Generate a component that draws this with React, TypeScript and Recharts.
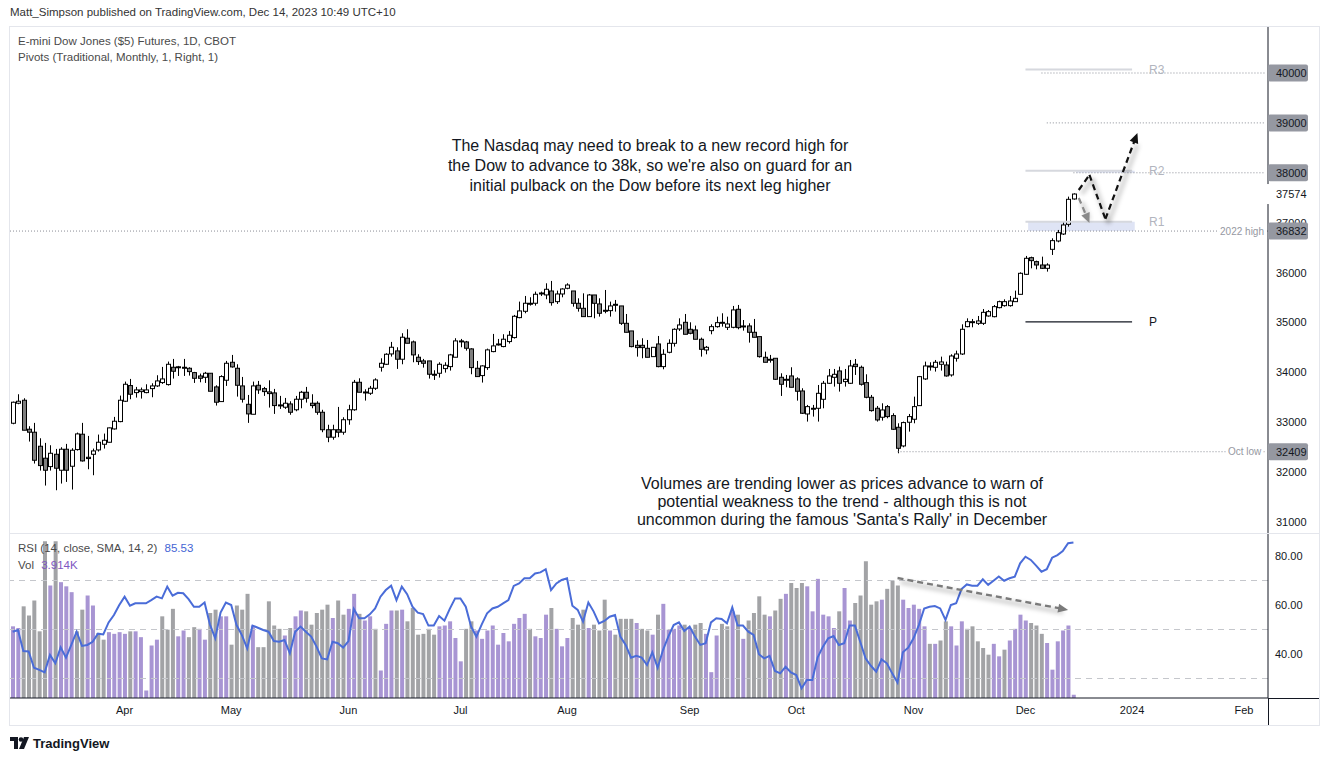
import React from 'react';
import { ComposedChart, Bar, Line, XAxis, YAxis, ReferenceLine, ReferenceArea, Cell } from 'recharts';

const FONT = "'Liberation Sans', Arial, sans-serif";

// ---- daily candles, Mar 3 2023 .. Dec 14 2023 (200 sessions) ----
const opens = [
  32980, 33381, 33441, 32860, 32800, 32519, 32279, 32111, 32358, 32038,
  32459, 32118, 32452, 32760, 32298, 32358, 32445, 32559, 32599, 32866,
  33013, 33421, 33735, 33594, 33614, 33594, 33674, 33728, 33795, 33755,
  34102, 34108, 34102, 34082, 33995, 33928, 33901, 33982, 33708, 33414,
  33842, 34202, 34082, 33728, 33360, 33160, 33741, 33674, 33608, 33588,
  33347, 33301, 33367, 33250, 33461, 33601, 33381, 33381, 33200, 32850,
  32700, 32850, 32800, 33050, 33250, 33801, 33601, 33581, 33681, 34102,
  34162, 34369, 34430, 34263, 34684, 34610, 34303, 34229, 34229, 33962,
  33982, 34075, 34115, 34303, 34630, 34610, 34470, 34082, 33935, 34095,
  34416, 34563, 34517, 34617, 34697, 35097, 35224, 35385, 35385, 35585,
  35552, 35631, 35417, 35571, 35685, 35631, 35384, 35284, 35117, 35551,
  35371, 35244, 35237, 35364, 35331, 34983, 34830, 34542, 34542, 34482,
  34315, 34569, 34115, 34402, 34582, 34870, 35003, 34863, 34850, 34663,
  34449, 34836, 34916, 34996, 34903, 34903, 35264, 34930, 34930, 34803,
  34716, 34302, 34262, 34282, 33901, 33861, 33928, 33868, 33627, 33166,
  33280, 33280, 33460, 33781, 33901, 34028, 33814, 33781, 34162, 34101,
  33794, 33500, 33280, 33100, 33313, 33133, 32899, 32525, 33000, 33060,
  33333, 33868, 34128, 34101, 34162, 34148, 33948, 34282, 34368, 34916,
  35016, 34983, 34983, 35130, 35116, 35297, 35337, 35337, 35417, 35564,
  35965, 36299, 36219, 36152, 36085, 36466, 36633, 36773, 36967, 37475,
];
const highs = [
  33414, 33561, 33481, 32920, 32987, 32679, 32586, 32539, 32465, 32499,
  32566, 32479, 32793, 32987, 32726, 32472, 32753, 32773, 32893, 33107,
  33534, 33815, 33868, 33708, 33695, 33761, 33781, 33942, 34109, 34216,
  34269, 34129, 34269, 34102, 34009, 33975, 34009, 33982, 33741, 33942,
  34229, 34349, 34162, 33908, 33547, 33815, 33828, 33708, 33841, 33668,
  33528, 33487, 33420, 33528, 33628, 33708, 33561, 33420, 33250, 32950,
  32950, 33307, 33100, 33350, 33848, 33881, 33661, 33728, 33881, 34282,
  34383, 34610, 34503, 34784, 34864, 34637, 34363, 34269, 34229, 34042,
  34202, 34202, 34370, 34684, 34670, 34630, 34483, 34229, 34142, 34476,
  34770, 34670, 34764, 34830, 35151, 35418, 35531, 35505, 35618, 35618,
  35785, 35832, 35638, 35685, 35785, 35631, 35484, 35584, 35571, 35551,
  35484, 35651, 35418, 35451, 35331, 35170, 34830, 34643, 34683, 34649,
  34502, 34729, 34462, 34662, 34883, 35083, 35170, 35003, 34937, 34696,
  34529, 34963, 35116, 35184, 35116, 35331, 35351, 35049, 34983, 35070,
  34716, 34415, 34349, 34282, 33981, 33948, 34102, 33901, 33681, 33347,
  33347, 33747, 33828, 34068, 34068, 34115, 34068, 34248, 34268, 34135,
  33961, 33547, 33326, 33380, 33346, 33180, 32979, 33013, 33166, 33513,
  33928, 34215, 34202, 34248, 34315, 34215, 34362, 34435, 34963, 35083,
  35070, 35130, 35270, 35250, 35350, 35437, 35464, 35531, 35638, 36005,
  36333, 36319, 36239, 36319, 36186, 36687, 36854, 37020, 37522, 37588,
];
const lows = [
  32960, 33361, 32840, 32613, 32172, 32031, 31731, 32031, 31637, 31771,
  31804, 31651, 32432, 32212, 32058, 31938, 32412, 32472, 32593, 32853,
  33000, 33407, 33461, 33494, 33474, 33581, 33501, 33708, 33768, 33735,
  33875, 33928, 33928, 33935, 33788, 33801, 33788, 33621, 33334, 33414,
  33728, 34095, 33514, 33394, 32987, 33160, 33568, 33528, 33294, 33167,
  33267, 33267, 33150, 33220, 33280, 33394, 33280, 33150, 32800, 32600,
  32650, 32700, 32750, 32950, 33230, 33601, 33434, 33548, 33648, 34015,
  34149, 34316, 34069, 34162, 34583, 34202, 34149, 34095, 33875, 33848,
  33895, 33995, 34035, 34303, 34503, 34436, 33962, 33915, 33795, 34049,
  34403, 34537, 34503, 34577, 34677, 35084, 35184, 35338, 35338, 35531,
  35465, 35337, 35371, 35504, 35665, 35317, 35217, 35117, 35117, 35083,
  35117, 35184, 35117, 35217, 34950, 34803, 34502, 34315, 34282, 34302,
  34315, 34101, 34061, 34382, 34516, 34830, 34763, 34763, 34663, 34315,
  34362, 34763, 34896, 34916, 34849, 34883, 34863, 34836, 34596, 34703,
  34295, 34202, 34195, 33848, 33527, 33701, 33701, 33433, 33166, 33013,
  33113, 33013, 33280, 33768, 33714, 33614, 33714, 33768, 33948, 33734,
  33480, 33213, 33013, 33033, 33079, 32846, 32378, 32498, 32812, 32979,
  33333, 33848, 34035, 34015, 34035, 33914, 33914, 34215, 34348, 34903,
  34903, 34950, 34950, 35116, 35103, 35283, 35317, 35317, 35417, 35564,
  35952, 36085, 36065, 36072, 36019, 36353, 36607, 36753, 36920, 37462,
];
const closes = [
  33401, 33421, 32840, 32800, 32238, 32131, 32038, 32378, 32078, 32459,
  32038, 32439, 32766, 32225, 32272, 32425, 32599, 32639, 32887, 33020,
  33441, 33761, 33561, 33648, 33648, 33648, 33728, 33828, 33868, 34162,
  34022, 34112, 34089, 34015, 33881, 33881, 33982, 33621, 33401, 33915,
  34182, 34109, 33741, 33461, 33167, 33728, 33648, 33614, 33574, 33334,
  33340, 33381, 33200, 33461, 33601, 33481, 33334, 33200, 32850, 32700,
  32850, 32800, 33050, 33250, 33801, 33601, 33607, 33681, 33848, 34182,
  34363, 34503, 34263, 34704, 34583, 34350, 34216, 34182, 33962, 33955,
  34162, 34142, 34350, 34630, 34624, 34483, 34095, 33915, 34129, 34450,
  34530, 34569, 34664, 34744, 35124, 35231, 35385, 35378, 35565, 35591,
  35665, 35397, 35571, 35671, 35751, 35384, 35284, 35117, 35551, 35384,
  35184, 35240, 35331, 35360, 34983, 34803, 34516, 34496, 34496, 34302,
  34502, 34115, 34362, 34582, 34863, 34950, 34763, 34783, 34663, 34462,
  34502, 34916, 34996, 35003, 34970, 35251, 34896, 34930, 34803, 34703,
  34315, 34202, 34262, 33861, 33761, 33861, 33701, 33621, 33180, 33313,
  33280, 33580, 33781, 33928, 33961, 33781, 33861, 34128, 34115, 33761,
  33500, 33233, 33046, 33246, 33113, 32859, 32478, 32993, 33113, 33313,
  33914, 34128, 34128, 34202, 34208, 33928, 34328, 34368, 34863, 35016,
  35016, 35030, 35203, 35217, 35317, 35417, 35417, 35430, 35484, 35985,
  36286, 36239, 36152, 36085, 36152, 36640, 36800, 36954, 37468, 37574,
];
// volume in thousands of contracts
const volumes = [
  86, 84, 110, 99, 117, 80, 188, 135, 188, 139,
  134, 127, 80, 106, 123, 111, 78, 70, 79, 77,
  79, 77, 80, 80, 73, 9, 63, 70, 98, 82,
  107, 74, 81, 73, 85, 83, 70, 102, 106, 98,
  98, 64, 111, 106, 125, 87, 61, 61, 116, 87,
  83, 75, 84, 98, 105, 104, 88, 102, 106, 112,
  96, 117, 100, 107, 125, 101, 93, 98, 83, 33,
  89, 105, 105, 106, 92, 108, 76, 77, 83, 76,
  86, 87, 92, 72, 44, 83, 92, 81, 71, 81,
  87, 64, 78, 68, 89, 96, 101, 83, 74, 72,
  100, 108, 83, 62, 72, 96, 88, 106, 84, 88,
  81, 118, 81, 76, 95, 95, 95, 90, 83, 81,
  76, 100, 113, 82, 83, 87, 88, 83, 88, 90,
  77, 31, 75, 89, 86, 104, 100, 71, 93, 102,
  122, 100, 98, 105, 119, 125, 138, 132, 138, 134,
  104, 143, 100, 98, 84, 104, 132, 93, 114, 123,
  164, 112, 116, 118, 131, 141, 135, 118, 108, 112,
  107, 86, 65, 65, 69, 92, 86, 63, 92, 83,
  86, 68, 60, 52, 65, 50, 58, 69, 83, 100,
  93, 90, 87, 77, 66, 34, 68, 81, 87, 3.914,
];
// p = purple volume bar, g = grey volume bar
const volumeTone =
  'ppgggggpgp' + 'ppggppggpp' + 'ppgpppppgg' + 'gppggppggp' + 'pggggpgggg' +
  'gpgppggggg' + 'pggppgppgp' + 'ppgpgggggg' + 'pppppggppp' + 'pppppppgpp' +
  'pgpppgggpg' + 'ggpggggpgg' + 'pgppppgpgg' + 'pppggpgpgg' + 'ggpggpgggp' +
  'pppppgppgg' + 'gggpgggppp' + 'ppgpggpppg' + 'ggggppgppp' + 'pgggpppppp';
const rsiValues = [
  49.1, 49.8, 41.2, 41.0, 34.4, 33.5, 32.5, 39.6, 36.2, 42.7,
  38.5, 43.7, 49.1, 43.3, 43.7, 45.0, 48.3, 48.0, 52.9, 55.9,
  60.0, 63.4, 59.7, 60.7, 60.7, 60.7, 62.0, 63.4, 62.7, 67.5,
  63.8, 65.0, 64.8, 62.4, 59.3, 59.3, 61.0, 52.1, 46.4, 56.9,
  61.0, 60.0, 51.8, 47.7, 42.3, 51.6, 50.7, 49.8, 49.1, 45.3,
  45.0, 45.7, 40.3, 49.1, 51.2, 49.1, 47.1, 43.0, 38.2, 37.8,
  45.0, 44.4, 42.6, 45.3, 58.4, 54.6, 54.6, 56.2, 58.6, 63.4,
  66.1, 67.9, 62.0, 67.5, 64.4, 59.3, 56.9, 56.3, 51.6, 51.6,
  55.5, 53.6, 58.4, 62.7, 62.7, 59.3, 51.2, 47.1, 52.1, 56.6,
  58.6, 59.3, 60.7, 62.0, 67.8, 68.8, 70.9, 70.9, 72.9, 73.3,
  74.6, 66.1, 68.8, 70.2, 70.9, 59.7, 58.0, 53.2, 61.0, 57.3,
  52.5, 53.5, 55.2, 55.9, 47.1, 43.7, 38.5, 39.3, 38.5, 35.5,
  40.7, 34.4, 41.6, 47.1, 51.8, 52.9, 49.4, 51.2, 47.1, 43.7,
  44.4, 52.9, 54.6, 54.3, 52.5, 59.0, 51.6, 51.6, 49.1, 47.8,
  39.9, 38.2, 39.2, 33.1, 32.1, 34.8, 32.5, 31.4, 26.0, 29.4,
  29.4, 38.5, 43.0, 46.4, 47.3, 43.7, 44.4, 51.6, 51.6, 45.0,
  38.2, 35.2, 32.8, 37.8, 36.2, 32.1, 28.3, 40.7, 42.6, 46.4,
  51.8, 58.6, 59.3, 59.6, 58.6, 53.9, 60.0, 60.7, 66.5, 68.4,
  67.9, 67.9, 70.5, 68.2, 69.9, 71.6, 69.9, 70.9, 71.6, 77.0,
  79.7, 78.4, 76.1, 73.6, 74.6, 79.3, 80.4, 82.0, 85.2, 85.53,
];

const totalSlots = 236; // trading sessions Mar 3 2023 .. Feb 7 2024
const monthTickIndex = [21, 41, 63, 84, 104, 127, 147, 169, 190, 210, 231];
const monthTickLabel = ['Apr', 'May', 'Jun', 'Jul', 'Aug', 'Sep', 'Oct', 'Nov', 'Dec', '2024', 'Feb'];

const priceTicks = [31000, 32000, 33000, 34000, 35000, 36000, 37000, 37574, 32409, 36832, 38000, 39000, 40000];
const boxedPrices = [40000, 39000, 38000, 36832, 32409];
const lastPrice = 37574;
const rsiTicks = [40, 60, 80];
const rsiBands = [70, 50, 30];

const pivotNames = ['R3', 'R2', 'R1', 'P'];
const pivotValues = [40070, 38040, 37020, 35010];
const pivotStart = 190;
const pivotEnd = 210;
const high2022 = 36832;
const octLow = 32409;
const octLowIndex = 166;
const targetLevels = [40000, 39000, 38000];
const targetStart = [193, 194, 199];

const blackArrowX = [200, 202, 205, 211];
const blackArrowY = [37655, 37956, 37074, 38798];
const greyArrowX = [200, 202];
const greyArrowY = [37495, 36994];
const volArrowX = [166, 198];
const volArrowRsi = [71.0, 58.0];

const rows = Array.from({ length: totalSlots }, (_, i) =>
  i < opens.length
    ? {
        i,
        o: opens[i],
        h: highs[i],
        l: lows[i],
        c: closes[i],
        range: [lows[i], highs[i]],
        vol: volumes[i],
        tone: volumeTone[i],
        rsi: rsiValues[i],
      }
    : { i, o: null, h: null, l: null, c: null, range: null, vol: null, tone: 'g', rsi: null }
);

const Candle = (props: any) => {
  const { x, y, width, height, payload } = props;
  if (!payload || payload.o == null) return null;
  const { o, h, l, c } = payload;
  const cx = Math.round(x + width / 2) + 0.5;
  const span = h - l || 1;
  const py = (v: number) => y + ((h - v) / span) * height;
  const top = py(Math.max(o, c));
  const bot = py(Math.min(o, c));
  const up = c >= o;
  return (
    <g>
      <line x1={cx} x2={cx} y1={y} y2={y + height} stroke="#000" strokeWidth={1} />
      <rect x={cx - 2} y={top} width={4} height={Math.max(bot - top, 1)} fill={up ? '#ffffff' : '#7f7f7f'} stroke="#000" strokeWidth={1} />
    </g>
  );
};

const PriceTick = (props: any) => {
  const { x, y, payload } = props;
  const v = payload.value;
  if (boxedPrices.includes(v)) {
    return (
      <g>
        <rect x={x} y={y - 8.5} width={40} height={17} rx={2} fill="#9598a1" />
        <text x={x + 8} y={y} dy={4} fontSize={11} fill="#131722" fontFamily={FONT}>{v}</text>
      </g>
    );
  }
  if (v === lastPrice) {
    return (
      <g>
        <rect x={x - 1} y={y - 10} width={50} height={20} fill="#ffffff" />
        <text x={x + 8} y={y} dy={4} fontSize={11} fill="#131722" fontFamily={FONT}>{v}</text>
      </g>
    );
  }
  return <text x={x + 8} y={y} dy={4} fontSize={11} fill="#131722" fontFamily={FONT}>{v}</text>;
};

const EndLabel = (props: any) => {
  const { viewBox, text } = props;
  if (!viewBox) return null;
  const { x, y, width } = viewBox;
  return (
    <text x={x + width - 4} y={y} dy={3.5} textAnchor="end" fontSize={10} fill="#9598a1" fontFamily={FONT}
      stroke="#ffffff" strokeWidth={5} paintOrder="stroke">{text}</text>
  );
};

const PivotLabel = (props: any) => {
  const { viewBox, text, color } = props;
  if (!viewBox) return null;
  const { x, y, width } = viewBox;
  return (
    <text x={x + width + 17} y={y} dy={4} fontSize={12} fill={color} fontFamily={FONT}>{text}</text>
  );
};

const arrowShape = (color: string, head: boolean, width: number, id: string) => (props: any) => {
  const { x1, y1, x2, y2 } = props;
  const ang = Math.atan2(y2 - y1, x2 - x1);
  const L = 10;
  const W = 4.5;
  const bx = x2 - L * Math.cos(ang);
  const by = y2 - L * Math.sin(ang);
  const lx = head ? bx + 2 * Math.cos(ang) : x2;
  const ly = head ? by + 2 * Math.sin(ang) : y2;
  const p1 = `${x2},${y2}`;
  const p2 = `${bx - W * Math.sin(ang)},${by + W * Math.cos(ang)}`;
  const p3 = `${bx + W * Math.sin(ang)},${by - W * Math.cos(ang)}`;
  return (
    <g>
      <defs>
        <filter id={id} x="-50%" y="-50%" width="200%" height="200%">
          <feGaussianBlur stdDeviation="2.2" />
        </filter>
      </defs>
      <line x1={x1 + 3} y1={y1 + 4} x2={lx + 3} y2={ly + 4} stroke="#000" strokeOpacity={0.18} strokeWidth={width + 2} filter={`url(#${id})`} />
      <line x1={x1} y1={y1} x2={lx} y2={ly} stroke={color} strokeWidth={width} strokeDasharray="6 4" />
      {head && <polygon points={`${p1} ${p2} ${p3}`} fill={color} />}
    </g>
  );
};

const TopChart = () => (
  <ComposedChart width={1319} height={506} data={rows} margin={{ top: 0, right: 0, bottom: 0, left: 10 }}>
    <XAxis dataKey="i" type="category" hide />
    <YAxis
      yAxisId="p"
      orientation="right"
      width={51}
      type="number"
      domain={[30780, 40922]}
      allowDataOverflow
      ticks={priceTicks}
      interval={0}
      tickSize={0}
      tickMargin={0}
      tickLine={false}
      axisLine={{ stroke: '#131722', strokeWidth: 1 }}
      tick={<PriceTick />}
    />
    <ReferenceArea yAxisId="p" x1={pivotStart + 1} x2={pivotEnd} y1={high2022} y2={pivotValues[2]} fill="#dfe4f5" fillOpacity={1} stroke="none" />
    <ReferenceArea yAxisId="p" x1={200} x2={pivotEnd} y1={targetLevels[2]} y2={pivotValues[1]} fill="#dfe4f5" fillOpacity={1} stroke="none" />
    <ReferenceLine yAxisId="p" y={high2022} stroke="#8a8d96" strokeDasharray="1 2"
      label={<EndLabel text="2022 high" />} />
    <ReferenceLine yAxisId="p" segment={[{ x: octLowIndex, y: octLow }, { x: totalSlots - 1, y: octLow }]}
      stroke="#8a8d96" strokeDasharray="1 2" label={<EndLabel text="Oct low" />} />
    {targetLevels.map((lv, k) => (
      <ReferenceLine key={`t${k}`} yAxisId="p" segment={[{ x: targetStart[k], y: lv }, { x: totalSlots - 1, y: lv }]}
        stroke="#8a8d96" strokeDasharray="1 2" />
    ))}
    {pivotNames.map((nm, k) => (
      <ReferenceLine key={nm} yAxisId="p" segment={[{ x: pivotStart, y: pivotValues[k] }, { x: pivotEnd, y: pivotValues[k] }]}
        stroke={nm === 'P' ? '#131722' : '#d6d8de'} strokeWidth={nm === 'P' ? 1.3 : 2}
        label={<PivotLabel text={nm} color={nm === 'P' ? '#131722' : '#b2b5be'} />} />
    ))}
    <Bar yAxisId="p" dataKey="range" barSize={4} isAnimationActive={false} shape={(p: any) => <Candle {...p} />} />
    <ReferenceLine yAxisId="p" segment={[{ x: greyArrowX[0], y: greyArrowY[0] }, { x: greyArrowX[1], y: greyArrowY[1] }]}
      shape={arrowShape('#8a8a8a', true, 2.2, 'shg')} />
    {blackArrowX.slice(0, -1).map((bx, k) => (
      <ReferenceLine key={`b${k}`} yAxisId="p"
        segment={[{ x: bx, y: blackArrowY[k] }, { x: blackArrowX[k + 1], y: blackArrowY[k + 1] }]}
        shape={arrowShape('#111111', k === blackArrowX.length - 2, 2.2, `shb${k}`)} />
    ))}
  </ComposedChart>
);

const BottomChart = () => (
  <ComposedChart width={1319} height={192} data={rows} margin={{ top: 0, right: 0, bottom: 0, left: 10 }}>
    <XAxis
      dataKey="i"
      type="category"
      ticks={monthTickIndex}
      interval={0}
      height={27}
      tickSize={0}
      tickMargin={8}
      tickLine={false}
      axisLine={{ stroke: '#131722', strokeWidth: 1 }}
      tickFormatter={(v: any) => monthTickLabel[monthTickIndex.indexOf(Number(v))] ?? ''}
      tick={{ fontSize: 11, fill: '#131722', fontFamily: FONT }}
    />
    <YAxis
      yAxisId="rsi"
      orientation="right"
      width={51}
      type="number"
      domain={[22.04, 89.39]}
      allowDataOverflow
      ticks={rsiTicks}
      interval={0}
      tickSize={0}
      tickMargin={7}
      tickLine={false}
      axisLine={{ stroke: '#131722', strokeWidth: 1 }}
      tickFormatter={(v: any) => Number(v).toFixed(2)}
      tick={{ fontSize: 11, fill: '#131722', fontFamily: FONT, textAnchor: 'start' }}
    />
    <YAxis yAxisId="vol" hide type="number" domain={[0, 198]} allowDataOverflow />
    <Bar yAxisId="vol" dataKey="vol" barSize={4} isAnimationActive={false}>
      {rows.map((r, k) => (
        <Cell key={k} fill={r.tone === 'p' ? '#a895d3' : '#a2a3a6'} />
      ))}
    </Bar>
    {rsiBands.map((b) => (
      <ReferenceLine key={b} yAxisId="rsi" y={b} stroke="#c5c7cc" strokeDasharray="6 5" />
    ))}
    <Line yAxisId="rsi" dataKey="rsi" stroke="#4a6cd8" strokeWidth={2} dot={false} isAnimationActive={false} />
    <ReferenceLine yAxisId="rsi" segment={[{ x: volArrowX[0], y: volArrowRsi[0] }, { x: volArrowX[1], y: volArrowRsi[1] }]}
      shape={arrowShape('#7a7a7a', true, 2.4, 'shv')} />
  </ComposedChart>
);

const abs = (extra: React.CSSProperties): React.CSSProperties => ({ position: 'absolute', ...extra });

export default function App() {
  return (
    <div style={{ position: 'absolute', left: 0, top: 0, width: 1330, height: 761, background: '#ffffff', fontFamily: FONT, overflow: 'hidden' }}>
      <div style={abs({ left: 10, top: 6, fontSize: 11.5, color: '#333333', whiteSpace: 'nowrap' })}>
        Matt_Simpson published on TradingView.com, Dec 14, 2023 10:49 UTC+10
      </div>
      <div style={abs({ left: 0, top: 27 })}>
        <TopChart />
      </div>
      <div style={abs({ left: 0, top: 533 })}>
        <BottomChart />
      </div>
      {/* frame & separators */}
      <div style={abs({ left: 9, top: 26, width: 1309, height: 698, border: '1.5px solid #e4e6ec', pointerEvents: 'none' })} />
      <div style={abs({ left: 10, top: 532.5, width: 1309, height: 1.5, background: '#e4e6ec' })} />
      <div style={abs({ left: 1268, top: 697.5, width: 51, height: 1, background: '#131722' })} />
      <div style={abs({ left: 1267.5, top: 698, width: 1, height: 27, background: '#131722' })} />

      <div style={abs({ left: 18, top: 35, fontSize: 11.5, color: '#4a4a4a', whiteSpace: 'nowrap' })}>E-mini Dow Jones ($5) Futures, 1D, CBOT</div>
      <div style={abs({ left: 18, top: 51, fontSize: 11.5, color: '#4a4a4a', whiteSpace: 'nowrap' })}>Pivots (Traditional, Monthly, 1, Right, 1)</div>

      <div style={abs({ left: 18, top: 542, fontSize: 11.5, color: '#4a4a4a', whiteSpace: 'nowrap' })}>
        RSI (14, close, SMA, 14, 2) <span style={{ color: '#4464d4', marginLeft: 4 }}>85.53</span>
      </div>
      <div style={abs({ left: 18, top: 559, fontSize: 11.5, color: '#4a4a4a', whiteSpace: 'nowrap' })}>
        Vol <span style={{ color: '#7e57c2', marginLeft: 4 }}>3.914K</span>
      </div>

      <div style={abs({ left: 380, top: 136, width: 540, textAlign: 'center', fontSize: 16, lineHeight: '20px', color: '#131722', whiteSpace: 'nowrap' })}>
        The Nasdaq may need to break to a new record high for<br />
        the Dow to advance to 38k, so we're also on guard for an<br />
        initial pulback on the Dow before its next leg higher
      </div>
      <div style={abs({ left: 572, top: 475, width: 540, textAlign: 'center', fontSize: 16, lineHeight: '18px', color: '#131722', whiteSpace: 'nowrap' })}>
        Volumes are trending lower as prices advance to warn of<br />
        potential weakness to the trend - although this is not<br />
        uncommon during the famous 'Santa's Rally' in December
      </div>

      <div style={abs({ left: 10, top: 736, display: 'flex', alignItems: 'center' })}>
        <svg width={20} height={14} viewBox="0 0 20 14">
          <path d="M0 0 H8 V12 H4 V4 H0 Z" fill="#131722" />
          <circle cx={11} cy={2.5} r={2.3} fill="#131722" />
          <path d="M14 0 H19 L14 12 H9 Z" fill="#131722" />
        </svg>
        <span style={{ marginLeft: 3, fontSize: 13, fontWeight: 600, color: '#131722' }}>TradingView</span>
      </div>
    </div>
  );
}
